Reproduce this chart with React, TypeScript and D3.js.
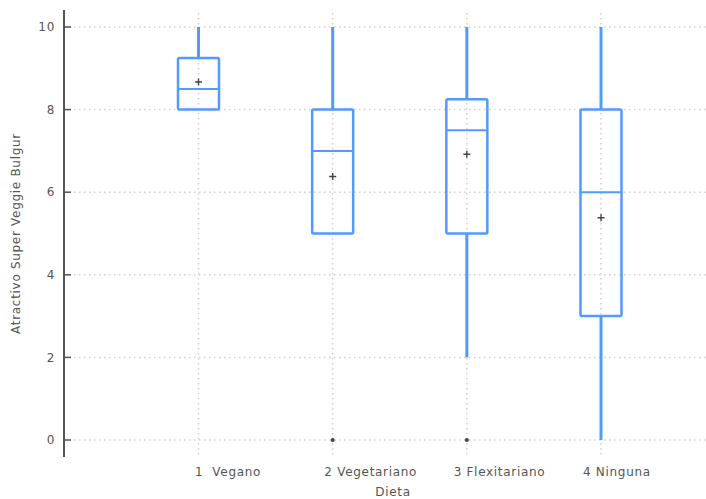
import React from "react";
import * as d3 from "d3";

// Box-plot summary per diet group
const categories = ["1 Vegano", "2 Vegetariano", "3 Flexitariano", "4 Ninguna"];
const tickLabels = ["1  Vegano", "2 Vegetariano", "3 Flexitariano", "4 Ninguna"];
const whiskerLow = [8, 5, 2, 0];
const q1 = [8, 5, 5, 3];
const median = [8.5, 7, 7.5, 6];
const q3 = [9.25, 8, 8.25, 8];
const whiskerHigh = [10, 10, 10, 10];
const means = [8.67, 6.38, 6.92, 5.38];
const outliers: [number, number][] = [
  [1, 0],
  [2, 0],
];
const yTicks = [0, 2, 4, 6, 8, 10];

const W = 706;
const H = 499;
const axisX = 64;
const blue = "#519bff";
const grid = "#cfcfcf";
const ink = "#555";
const font = "'DejaVu Sans', Verdana, sans-serif";

export default function App() {
  const y = d3.scaleLinear().domain([0, 10]).range([440, 27]);
  const x = d3.scalePoint<string>().domain(categories).range([198.5, 601]);
  const xLabel = d3.scalePoint<string>().domain(categories).range([195, 583]);
  const boxW = 41;

  return (
    <svg
      width={W}
      height={H}
      style={{ position: "absolute", left: 0, top: 0, background: "#fff" }}
      fontFamily={font}
      letterSpacing={0.7}
    >
      {/* horizontal grid */}
      {yTicks.map((t) => (
        <line
          key={"hg" + t}
          x1={axisX}
          x2={W}
          y1={y(t)}
          y2={y(t)}
          stroke={grid}
          strokeWidth={1.5}
          strokeDasharray="1.5,3.5"
        />
      ))}
      {/* vertical grid at each category */}
      {categories.map((c) => (
        <line
          key={"vg" + c}
          x1={x(c)}
          x2={x(c)}
          y1={13}
          y2={457}
          stroke={grid}
          strokeWidth={1.5}
          strokeDasharray="1.5,3.5"
        />
      ))}

      {/* y axis */}
      <line x1={axisX} x2={axisX} y1={10} y2={457} stroke={ink} strokeWidth={2} />
      {yTicks.map((t) => (
        <g key={"yt" + t}>
          <line x1={axisX} x2={axisX + 7} y1={y(t)} y2={y(t)} stroke={ink} strokeWidth={1.5} />
          <text
            x={axisX - 9}
            y={y(t)}
            dy="0.35em"
            textAnchor="end"
            fontSize={12}
            fill={ink}
          >
            {t}
          </text>
        </g>
      ))}

      {/* boxes */}
      {categories.map((c, i) => {
        const cx = x(c) as number;
        return (
          <g key={"box" + c}>
            {whiskerHigh[i] > q3[i] && (
              <line x1={cx} x2={cx} y1={y(whiskerHigh[i])} y2={y(q3[i])} stroke={blue} strokeWidth={3} />
            )}
            {whiskerLow[i] < q1[i] && (
              <line x1={cx} x2={cx} y1={y(q1[i])} y2={y(whiskerLow[i])} stroke={blue} strokeWidth={3} />
            )}
            <rect
              x={cx - boxW / 2}
              y={y(q3[i])}
              width={boxW}
              height={y(q1[i]) - y(q3[i])}
              fill="none"
              stroke={blue}
              strokeWidth={2.5}
              rx={1.5}
            />
            <line
              x1={cx - boxW / 2}
              x2={cx + boxW / 2}
              y1={y(median[i])}
              y2={y(median[i])}
              stroke={blue}
              strokeWidth={2}
            />
            {/* mean marker */}
            <path
              d={`M${cx - 3.5},${y(means[i])}H${cx + 3.5}M${cx},${y(means[i]) - 3.5}V${y(means[i]) + 3.5}`}
              stroke="#444"
              strokeWidth={1.4}
            />
          </g>
        );
      })}

      {/* outliers */}
      {outliers.map(([ci, v], k) => (
        <circle key={"o" + k} cx={x(categories[ci])} cy={y(v)} r={2} fill="#444" />
      ))}

      {/* x tick labels */}
      {categories.map((c, i) => (
        <text
          key={"xl" + c}
          x={xLabel(c)}
          y={476}
          fontSize={12}
          fill={ink}
          style={{ whiteSpace: "pre" }}
        >
          {tickLabels[i]}
        </text>
      ))}

      {/* axis titles */}
      <text x={393} y={496} textAnchor="middle" fontSize={12} fill={ink}>
        Dieta
      </text>
      <text
        transform={`translate(19.5,233.5) rotate(-90)`}
        textAnchor="middle"
        fontSize={12}
        fill={ink}
      >
        Atractivo Super Veggie Bulgur
      </text>
    </svg>
  );
}
